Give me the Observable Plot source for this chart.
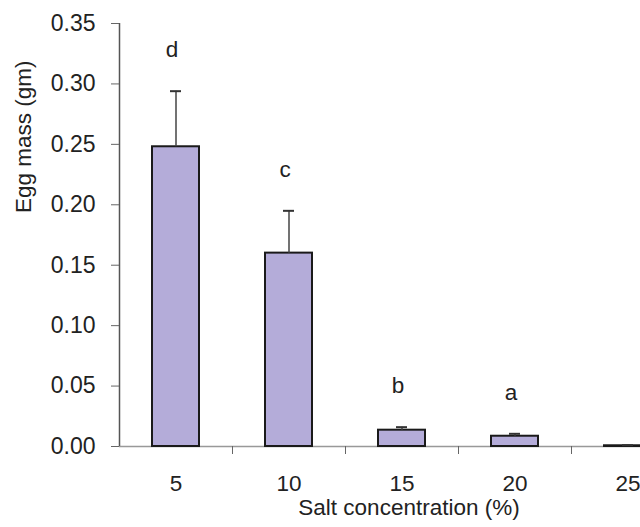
<!DOCTYPE html>
<html>
<head>
<meta charset="utf-8">
<script src="https://cdn.jsdelivr.net/npm/d3@7"></script>
<script src="https://cdn.jsdelivr.net/npm/@observablehq/plot@0.6"></script>
<style>
  html, body { margin: 0; padding: 0; background: #fff; overflow: hidden; }
</style>
</head>
<body>
<div id="chart"></div>
<script>
const salt = [5, 10, 15, 20, 25];
const mass = [0.248, 0.160, 0.0135, 0.0085, 0.0006];
const upper = [0.294, 0.195, 0.016, 0.0105, 0.0011];
const letters = ["d", "c", "b", "a", ""];
const yTicks = [0, 0.05, 0.10, 0.15, 0.20, 0.25, 0.30, 0.35];
const xBoundaries = [7.5, 12.5, 17.5, 22.5, 27.5];
const xTitle = "Salt concentration (%)";
const yTitle = "Egg mass (gm)";

const data = salt.map((s, i) => ({salt: s, mass: mass[i], upper: upper[i], letter: letters[i]}));

const chart = Plot.plot({
  width: 640,
  height: 527,
  marginLeft: 119,
  marginRight: -44,
  marginTop: 23,
  marginBottom: 81,
  style: {fontFamily: "'Liberation Sans', Arial, sans-serif", fontSize: "22px", color: "#222", background: "#fff"},
  x: {type: "linear", domain: [2.5, 27.5]},
  y: {domain: [0, 0.35]},
  marks: [
    Plot.ruleY([0], {stroke: "#999", strokeWidth: 1.5}),
    Plot.ruleX([2.5], {stroke: "#555", strokeWidth: 1.5}),
    Plot.axisY(yTicks, {tickSize: 8, tickPadding: 16, tickFormat: d3.format(".2f"), label: null, stroke: "#666", fontSize: 23}),
    Plot.axisX(xBoundaries, {tickSize: 8, tickFormat: () => "", label: null, stroke: "#666"}),
    Plot.axisX(salt, {tickSize: 0, tickPadding: 29, label: null, fontSize: 22.5}),
    Plot.rectY(data, {x1: d => d.salt - 2.5, x2: d => d.salt + 2.5, y: "mass", insetLeft: 33, insetRight: 33, fill: "#b4acd9", stroke: "#1a1a1a", strokeWidth: 2}),
    Plot.ruleX(data, {x: "salt", y1: "mass", y2: "upper", stroke: "#444", strokeWidth: 1.5}),
    Plot.ruleY(data, {y: "upper", x1: d => d.salt - 2.5, x2: d => d.salt + 2.5, insetLeft: 51, insetRight: 51, stroke: "#333", strokeWidth: 2}),
    Plot.text(data, {x: "salt", y: "upper", text: "letter", dy: -41, dx: -4, fontSize: 22.5, fill: "#222"}),
    Plot.text([yTitle], {frameAnchor: "left", rotate: -90, dx: -96, dy: -22, fontSize: 22.5, fill: "#222"}),
    Plot.text([xTitle], {frameAnchor: "bottom", dx: 7, dy: 68, fontSize: 22.5, fill: "#222"})
  ]
});
document.getElementById("chart").appendChild(chart);
</script>
</body>
</html>
